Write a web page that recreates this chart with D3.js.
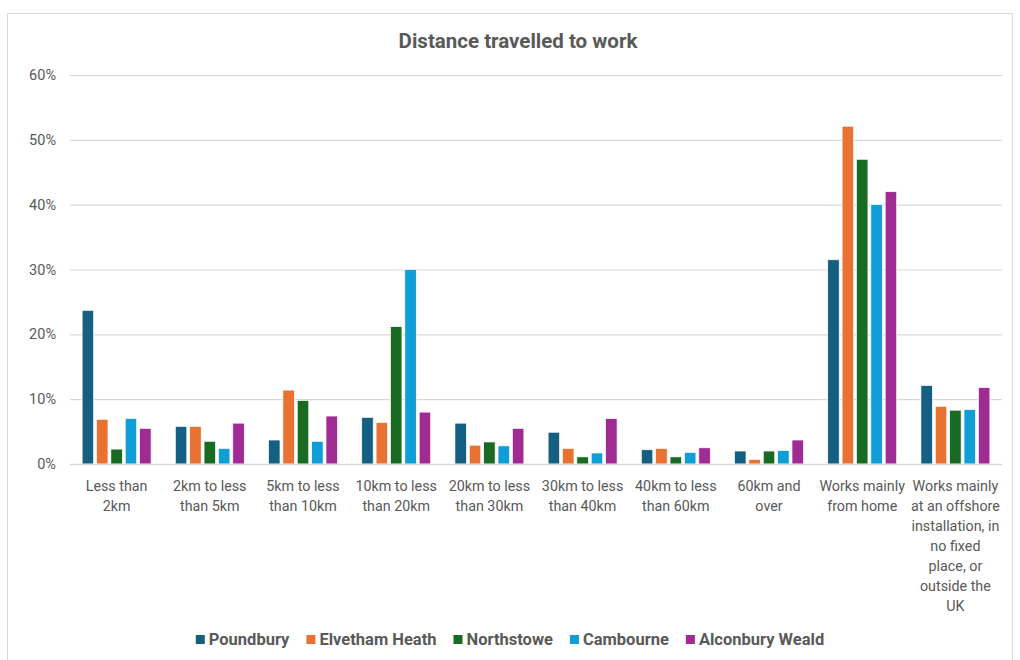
<!DOCTYPE html>
<html>
<head>
<meta charset="utf-8">
<script src="https://cdn.jsdelivr.net/npm/d3@7"></script>
<style>
  body { margin: 0; background: #fff; }
  text { font-family: Roboto, "Open Sans", sans-serif; }
</style>
</head>
<body>
<script>
// categories, split into lines as they wrap on the axis
const categories = [
  "Less than|2km",
  "2km to less|than 5km",
  "5km to less|than 10km",
  "10km to less|than 20km",
  "20km to less|than 30km",
  "30km to less|than 40km",
  "40km to less|than 60km",
  "60km and|over",
  "Works mainly|from home",
  "Works mainly|at an offshore|installation, in|no fixed|place, or|outside the|UK"
];

const seriesNames = ["Poundbury", "Elvetham Heath", "Northstowe", "Cambourne", "Alconbury Weald"];
const seriesColors = ["#156082", "#E97132", "#196B24", "#0F9ED5", "#A02B93"];

const poundbury     = [23.7, 5.8, 3.7, 7.2, 6.3, 4.9, 2.2, 2.0, 31.5, 12.1];
const elvethamHeath = [6.9, 5.8, 11.4, 6.4, 2.9, 2.4, 2.4, 0.7, 52.1, 8.9];
const northstowe    = [2.3, 3.5, 9.8, 21.2, 3.4, 1.1, 1.1, 2.0, 47.0, 8.3];
const cambourne     = [7.0, 2.4, 3.5, 30.0, 2.8, 1.7, 1.8, 2.1, 40.0, 8.4];
const alconbury     = [5.5, 6.3, 7.4, 8.0, 5.5, 7.0, 2.5, 3.7, 42.0, 11.8];

const yTicks = [0, 10, 20, 30, 40, 50, 60];

const seriesValues = [poundbury, elvethamHeath, northstowe, cambourne, alconbury];

const W = 1020, H = 660;
const margin = { left: 70, right: 18, top: 75, bottom: 196 };

const svg = d3.select("body").append("svg")
    .attr("width", W)
    .attr("height", H);

// chart frame
svg.append("rect")
    .attr("x", 7.5).attr("y", 13.5)
    .attr("width", 1005).attr("height", 660)
    .attr("fill", "#fff")
    .attr("stroke", "#d9d9d9");

svg.append("text")
    .attr("x", 518).attr("y", 48)
    .attr("text-anchor", "middle")
    .attr("font-size", 20.5)
    .attr("font-weight", "bold")
    .attr("fill", "#595959")
    .text("Distance travelled to work");

const x0 = d3.scaleBand()
    .domain(categories)
    .range([margin.left, W - margin.right])
    .paddingInner(0.26)
    .paddingOuter(0.13);

const x1 = d3.scaleBand()
    .domain(seriesNames)
    .range([0, x0.bandwidth()])
    .padding(0.2)
    .paddingOuter(0);

const y = d3.scaleLinear()
    .domain([0, 60])
    .range([H - margin.bottom, margin.top]);

// gridlines
svg.append("g")
    .selectAll("line")
    .data(yTicks)
    .join("line")
    .attr("x1", margin.left)
    .attr("x2", W - margin.right)
    .attr("y1", d => y(d) + 0.5)
    .attr("y2", d => y(d) + 0.5)
    .attr("stroke", "#d9d9d9")
    .attr("stroke-width", 1.2);

// y axis labels
const yAxis = svg.append("g")
    .attr("transform", `translate(${margin.left},0)`)
    .call(d3.axisLeft(y).tickValues(yTicks).tickSize(0).tickPadding(14).tickFormat(d => d + "%"));
yAxis.select(".domain").remove();
yAxis.selectAll("text")
    .attr("font-family", "Roboto, sans-serif")
    .attr("font-size", 14.5)
    .attr("fill", "#595959");

// bars
const groups = svg.append("g")
    .selectAll("g")
    .data(categories)
    .join("g")
    .attr("transform", d => `translate(${x0(d)},0)`);

groups.selectAll("rect")
    .data((d, i) => seriesNames.map((s, j) => ({ s, v: seriesValues[j][i], c: seriesColors[j] })))
    .join("rect")
    .attr("x", d => x1(d.s))
    .attr("width", x1.bandwidth())
    .attr("y", d => y(d.v))
    .attr("height", d => y(0) - y(d.v))
    .attr("fill", d => d.c)
    .attr("stroke", "#fff")
    .attr("stroke-width", 0.7);

// baseline
svg.append("line")
    .attr("x1", margin.left).attr("x2", W - margin.right)
    .attr("y1", y(0) + 0.5).attr("y2", y(0) + 0.5)
    .attr("stroke", "#d9d9d9")
    .attr("stroke-width", 1.5);

// x labels
const xLabels = svg.append("g")
    .selectAll("text")
    .data(categories)
    .join("text")
    .attr("x", d => x0(d) + x0.bandwidth() / 2)
    .attr("y", y(0) + 27)
    .attr("text-anchor", "middle")
    .attr("font-size", 14.3)
    .attr("fill", "#595959");

xLabels.selectAll("tspan")
    .data(d => d.split("|"))
    .join("tspan")
    .attr("x", function () { return d3.select(this.parentNode).attr("x"); })
    .attr("dy", (d, i) => i === 0 ? 0 : 20)
    .text(d => d);

// legend
const legend = svg.append("g");
let lx = 0;
seriesNames.forEach((name, i) => {
    const item = legend.append("g").attr("transform", `translate(${lx},0)`);
    item.append("rect")
        .attr("x", 0).attr("y", -10)
        .attr("width", 9).attr("height", 9)
        .attr("fill", seriesColors[i]);
    const t = item.append("text")
        .attr("x", 13).attr("y", 0)
        .attr("font-size", 16.5)
        .attr("font-weight", "bold")
        .attr("fill", "#595959")
        .text(name);
    lx += 13 + t.node().getComputedTextLength() + 17;
});
const legendWidth = lx - 17;
legend.attr("transform", `translate(${(W - legendWidth) / 2},645)`);
</script>
</body>
</html>
